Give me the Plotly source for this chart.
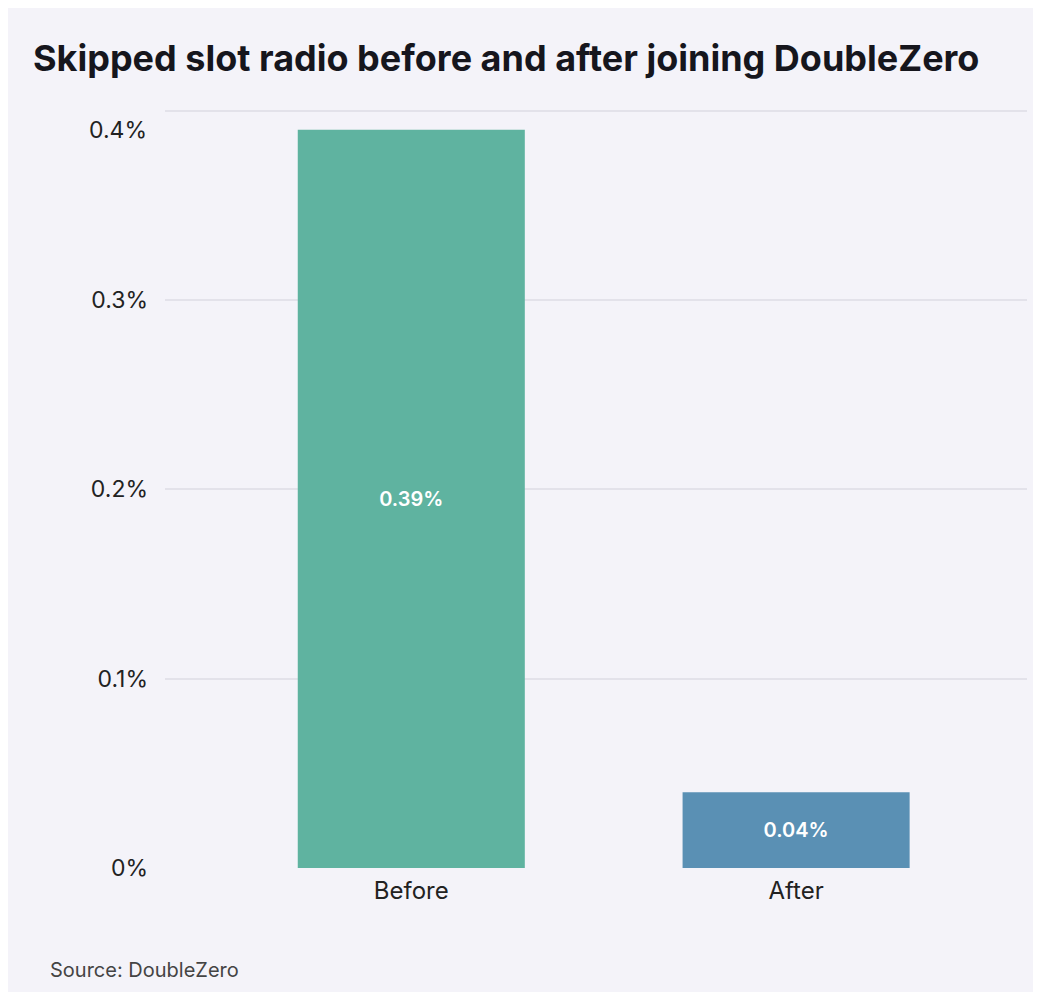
import plotly.graph_objects as go

# data
periods = ["Before", "After"]
skipped_pct = [0.39, 0.04]
bar_colors = ["#5fb3a0", "#5a90b4"]
tick_vals = [0, 0.1, 0.2, 0.3, 0.4]
tick_text = ["0%", "0.1%", "0.2%", "0.3%", ""]

bg = "#f4f3f9"
font = "Inter, Roboto, sans-serif"

W, H = 1025, 984
L, R, T, B = 157, 6, 99, 124
plot_w = W - L - R
plot_h = H - T - B

fig = go.Figure()
fig.add_trace(go.Bar(
    x=periods,
    y=skipped_pct,
    marker=dict(color=bar_colors, line=dict(width=0)),
    width=0.59,
    text=[f"{v:.2f}%" for v in skipped_pct],
    textposition="inside",
    insidetextanchor="middle",
    textfont=dict(color="white", size=20, family="Inter SemiBold, Inter, sans-serif"),
    hoverinfo="skip",
))

fig.update_layout(
    width=W, height=H,
    paper_bgcolor=bg, plot_bgcolor=bg,
    margin=dict(l=L, r=R, t=T, b=B),
    showlegend=False,
    font=dict(family=font, color="#222222"),
    title=dict(
        text="<b>Skipped slot radio before and after joining DoubleZero</b>",
        x=25 / W, xanchor="left", xref="container",
        y=1 - 50 / H, yanchor="middle", yref="container",
        font=dict(size=36, family=font, color="#16161d"),
    ),
    xaxis=dict(
        range=[-0.64, 1.6],
        showgrid=False, zeroline=False, showline=False,
        ticks="", ticklabelstandoff=6,
        tickfont=dict(size=24, color="#222222"),
    ),
    yaxis=dict(
        range=[0, 0.402],
        tickvals=tick_vals, ticktext=tick_text,
        showgrid=True, gridcolor="#e3e2ea", gridwidth=2,
        zeroline=False, showline=False,
        ticks="", ticklabelstandoff=16,
        tickfont=dict(size=23, color="#222222"),
    ),
)

# the 0.4% label sits a little below its gridline in the source
fig.add_annotation(
    text="0.4%", x=0, xref="paper", xanchor="right", xshift=-16,
    y=0.39, yref="y", yanchor="middle", showarrow=False,
    font=dict(size=23, color="#222222", family=font),
)

fig.add_annotation(
    text="Source: DoubleZero", x=(40 - L) / plot_w, xref="paper", xanchor="left",
    y=(H - B - 962) / plot_h, yref="paper", yanchor="middle", showarrow=False,
    font=dict(size=20, color="#444444", family=font),
)

fig.write_html("out.html")
